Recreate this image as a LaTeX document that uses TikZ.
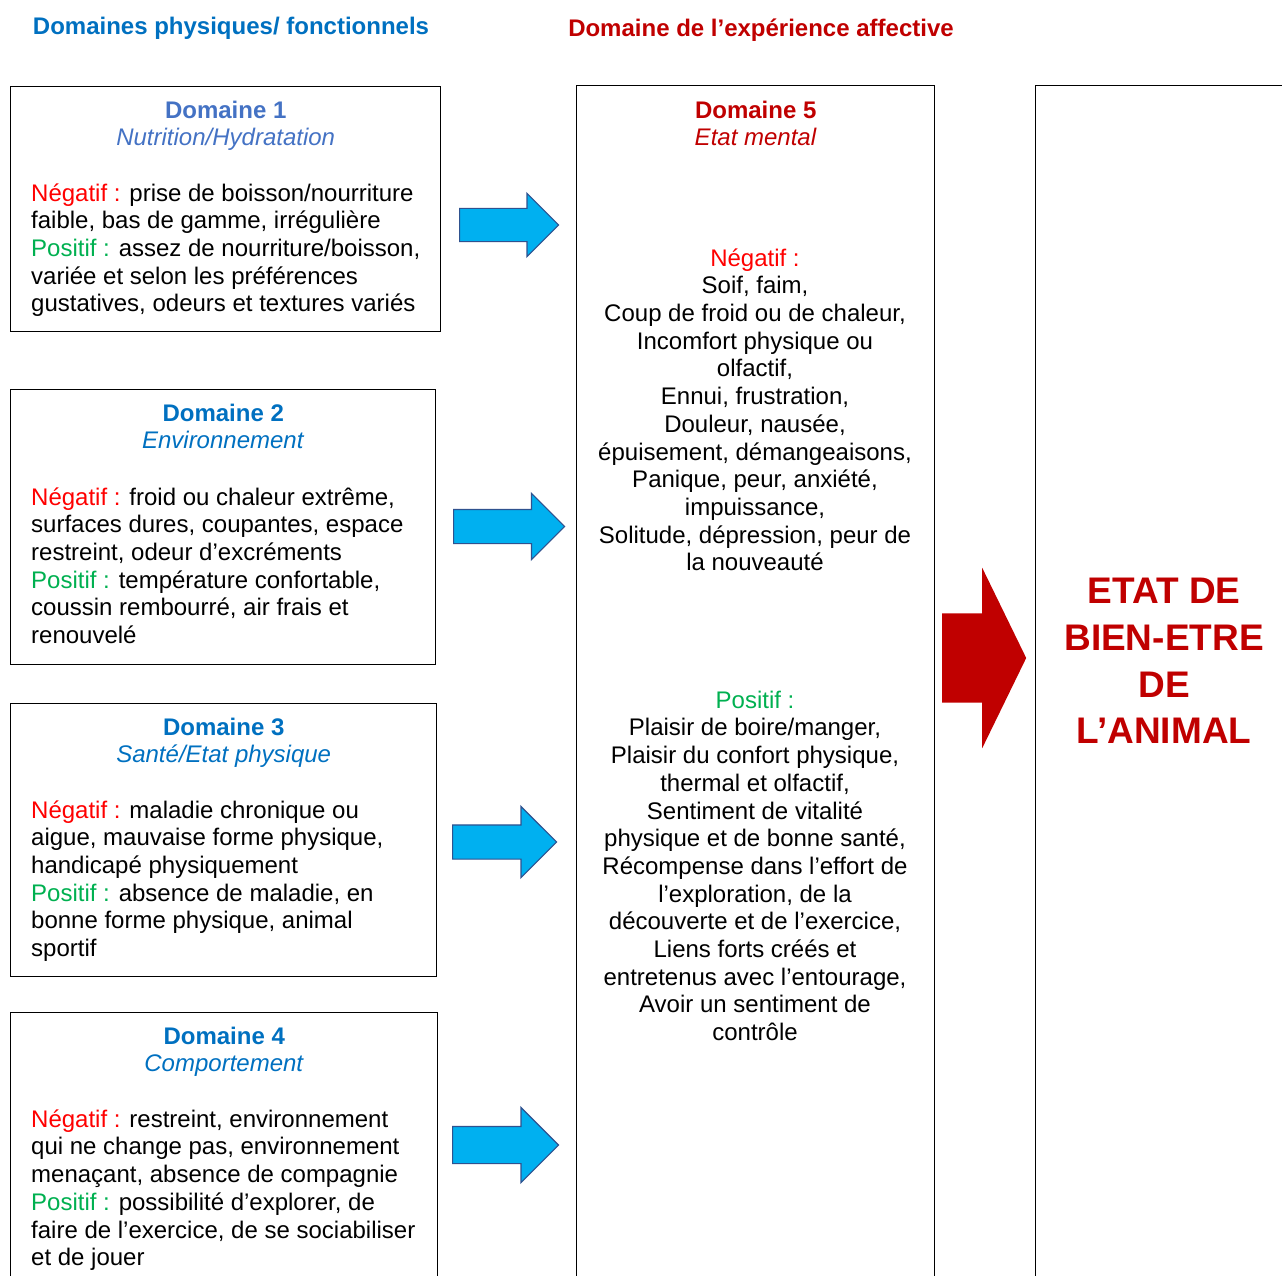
\documentclass[tikz,border=0pt]{standalone}
\usepackage{fontspec}
\setmainfont{Liberation Sans}
\usetikzlibrary{shapes.arrows,positioning}
\definecolor{bleutitre}{RGB}{0,112,192}
\definecolor{bleuclair}{RGB}{68,114,196}
\definecolor{rougefonce}{RGB}{192,0,0}
\definecolor{rougevif}{RGB}{255,0,0}
\definecolor{vertpos}{RGB}{0,176,80}
\definecolor{flechebleue}{RGB}{0,176,240}
\definecolor{bordfleche}{RGB}{47,82,143}
\newcommand{\negatif}{\textcolor{rougevif}{Négatif :}}
\newcommand{\positif}{\textcolor{vertpos}{Positif :}}

\begin{document}
\begin{tikzpicture}[x=1pt,y=-1pt,
    texte/.style={inner sep=0pt,font=\fontsize{24}{27.7}\selectfont},
    cadre/.style={draw,line width=1.4pt,anchor=north west,inner sep=0pt},
    titre/.style={texte,align=center,node distance=12.6pt},
    corps/.style={texte,align=left,anchor=north west},
    fleche/.style={single arrow,draw=bordfleche,fill=flechebleue,line width=1.2pt,
      inner xsep=0pt,single arrow tip angle=90,anchor=tail}]
   \clip (0,0) rectangle (1282,1276);
   % en-tetes
   \node[texte,anchor=north,text=bleutitre,font=\fontsize{24}{27.7}\selectfont\bfseries]
     (entete1) at (231,14.6) {\strut Domaines physiques/ fonctionnels};
   \node[texte,anchor=north,text=rougefonce,font=\fontsize{24}{27.7}\selectfont\bfseries]
     (entete2) at (761,16.6) {\strut Domaine de l’expérience affective};
   % cadres
   \node[cadre,minimum width=430pt,minimum height=245pt] (dom1) at (10,86) {};
   \node[cadre,minimum width=425pt,minimum height=275pt] (dom2) at (10,389) {};
   \node[cadre,minimum width=426pt,minimum height=273pt] (dom3) at (10,703) {};
   \node[cadre,minimum width=427pt,minimum height=300pt] (dom4) at (10,1012) {};
   \node[cadre,minimum width=358pt,minimum height=1220pt] (dom5) at (576,85) {};
   \node[cadre,minimum width=300pt,minimum height=1220pt] (bienetre) at (1035,85) {};
   % titres
   \node[titre,below=of dom1.north,text=bleuclair] (t1)
     {\strut\textbf{Domaine 1}\\\textit{Nutrition/Hydratation}};
   \node[titre,below=of dom2.north,text=bleutitre] (t2)
     {\strut\textbf{Domaine 2}\\\textit{Environnement}};
   \node[titre,below=of dom3.north,text=bleutitre] (t3)
     {\strut\textbf{Domaine 3}\\\textit{Santé/Etat physique}};
   \node[titre,below=of dom4.north,text=bleutitre] (t4)
     {\strut\textbf{Domaine 4}\\\textit{Comportement}};
   \node[titre,below=13.6pt of dom5.north,text=rougefonce] (t5)
     {\strut\textbf{Domaine 5}\\\textit{Etat mental}};
   % textes
   \node[corps] (c1) at (31,181.6) {\strut\negatif{} prise de boisson/nourriture\\
     faible, bas de gamme, irrégulière\\
     \positif{} assez de nourriture/boisson,\\
     variée et selon les préférences\\
     gustatives, odeurs et textures variés};
   \node[corps] (c2) at (31,485.6) {\strut\negatif{} froid ou chaleur extrême,\\
     surfaces dures, coupantes, espace\\
     restreint, odeur d’excréments\\
     \positif{} température confortable,\\
     coussin rembourré, air frais et\\
     renouvelé};
   \node[corps] (c3) at (31,798.6) {\strut\negatif{} maladie chronique ou\\
     aigue, mauvaise forme physique,\\
     handicapé physiquement\\
     \positif{} absence de maladie, en\\
     bonne forme physique, animal\\
     sportif};
   \node[corps] (c4) at (31,1107.6) {\strut\negatif{} restreint, environnement\\
     qui ne change pas, environnement\\
     menaçant, absence de compagnie\\
     \positif{} possibilité d’explorer, de\\
     faire de l’exercice, de se sociabiliser\\
     et de jouer};
   \node[texte,align=center,anchor=north] (c5neg) at (755,246.6) {\strut\negatif\\
     Soif, faim,\\
     Coup de froid ou de chaleur,\\
     Incomfort physique ou\\
     olfactif,\\
     Ennui, frustration,\\
     Douleur, nausée,\\
     épuisement, démangeaisons,\\
     Panique, peur, anxiété,\\
     impuissance,\\
     Solitude, dépression, peur de\\
     la nouveauté};
   \node[texte,align=center,anchor=north] (c5pos) at (755,688.6) {\strut\positif\\
     Plaisir de boire/manger,\\
     Plaisir du confort physique,\\
     thermal et olfactif,\\
     Sentiment de vitalité\\
     physique et de bonne santé,\\
     Récompense dans l’effort de\\
     l’exploration, de la\\
     découverte et de l’exercice,\\
     Liens forts créés et\\
     entretenus avec l’entourage,\\
     Avoir un sentiment de\\
     contrôle};
   \node[inner sep=0pt,align=center,anchor=north,text=rougefonce,
     font=\fontsize{37}{46.7}\selectfont\bfseries] (etat) at (1164,571)
     {\strut ETAT DE\\BIEN-ETRE\\DE\\L’ANIMAL};
   % fleches
   \node[fleche,minimum height=99pt,inner ysep=16pt,single arrow head extend=15pt]
     (f1) at (459,225) {};
   \node[fleche,minimum height=111pt,inner ysep=16.5pt,single arrow head extend=16pt]
     (f2) at (453,526.5) {};
   \node[fleche,minimum height=104pt,inner ysep=16.5pt,single arrow head extend=18.5pt]
     (f3) at (452,842) {};
   \node[fleche,minimum height=106pt,inner ysep=18pt,single arrow head extend=19pt]
     (f4) at (452,1145) {};
   \node[single arrow,fill=rougefonce,inner xsep=0pt,inner ysep=44.5pt,anchor=tail,
     single arrow head extend=45.5pt,single arrow tip angle=128,minimum height=84pt]
     (frouge) at (942,658) {};
\end{tikzpicture}
\end{document}
